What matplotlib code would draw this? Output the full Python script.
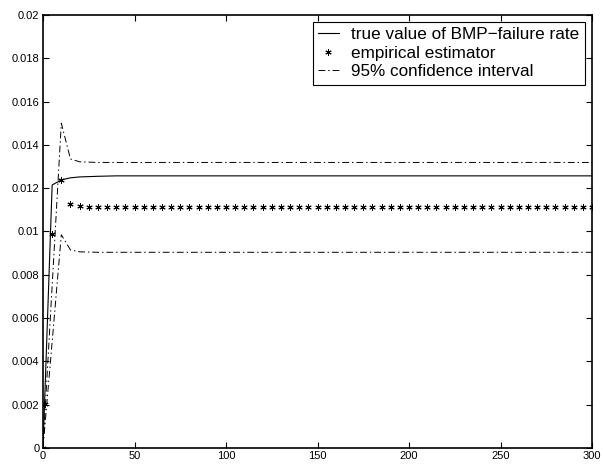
import matplotlib
matplotlib.use("Agg")
import matplotlib.pyplot as plt

plt.rcParams['font.family'] = ['Liberation Sans', 'DejaVu Sans']

# true BMP-failure rate (smooth curve, sparse points)
x_true = [0, 5, 10, 15, 20, 30, 40, 300]
y_true = [0, 0.01215, 0.01238, 0.01248, 0.01252, 0.01255, 0.01257, 0.01257]

# empirical estimator
x_emp = [0, 1, 5, 10, 15, 20, 25, 30, 35, 40, 45, 50, 55, 60, 65, 70, 75, 80,
         85, 90, 95, 100, 105, 110, 115, 120, 125, 130, 135, 140, 145, 150,
         155, 160, 165, 170, 175, 180, 185, 190, 195, 200, 205, 210, 215, 220,
         225, 230, 235, 240, 245, 250, 255, 260, 265, 270, 275, 280, 285, 290,
         295, 300]
y_emp = [0, 0.00203, 0.0099, 0.0124, 0.01127, 0.01118, 0.01113, 0.01112,
         0.01112, 0.01112, 0.01112, 0.01112, 0.01112, 0.01112, 0.01112, 0.01112,
         0.01112, 0.01112, 0.01112, 0.01112, 0.01112, 0.01112, 0.01112, 0.01112,
         0.01112, 0.01112, 0.01112, 0.01112, 0.01112, 0.01112, 0.01112, 0.01112,
         0.01112, 0.01112, 0.01112, 0.01112, 0.01112, 0.01112, 0.01112, 0.01112,
         0.01112, 0.01112, 0.01112, 0.01112, 0.01112, 0.01112, 0.01112, 0.01112,
         0.01112, 0.01112, 0.01112, 0.01112, 0.01112, 0.01112, 0.01112, 0.01112,
         0.01112, 0.01112, 0.01112, 0.01112, 0.01112, 0.01112]

# 95% confidence interval
x_ci = [0, 5, 10, 15, 20, 30, 300]
y_upper = [0, 0.0075, 0.0150, 0.01335, 0.01322, 0.01319, 0.01319]
y_lower = [0, 0.0049, 0.00985, 0.00915, 0.00906, 0.00904, 0.00904]

fig = plt.figure(figsize=(6.04, 4.69), dpi=100)
ax = fig.add_axes([0.0712, 0.0448, 0.909, 0.9232])

dashdot = (0, (7, 3, 1.5, 3))
ax.plot(x_true, y_true, color='black', lw=0.8, label='true value of BMP\u2212failure rate')
ax.plot(x_emp, y_emp, ls='none', marker=(6, 2, 0), ms=4.5, mew=0.7, color='black',
        label='empirical estimator')
ax.plot(x_ci, y_upper, color='black', lw=0.7, ls=dashdot, label='95% confidence interval')
ax.plot(x_ci, y_lower, color='black', lw=0.7, ls=dashdot)

ax.set_xlim(0, 300)
ax.set_ylim(0, 0.02)
ax.set_xticks([0, 50, 100, 150, 200, 250, 300])
ax.set_yticks([0, 0.002, 0.004, 0.006, 0.008, 0.01, 0.012, 0.014, 0.016, 0.018, 0.02])
ax.set_yticklabels(['0', '0.002', '0.004', '0.006', '0.008', '0.01', '0.012',
                    '0.014', '0.016', '0.018', '0.02'])
ax.tick_params(direction='in', top=True, right=True, labelsize=8, length=4,
               width=0.8, pad=2.5)
for s in ax.spines.values():
    s.set_linewidth(1.2)

leg = ax.legend(loc='upper right', fontsize=12.3, frameon=True, fancybox=False,
                edgecolor='black', framealpha=1, borderaxespad=0.4,
                handlelength=1.2, handletextpad=0.75, labelspacing=0.2,
                borderpad=0.32)
leg.get_frame().set_linewidth(0.8)

fig.savefig('out.png', dpi=100)
